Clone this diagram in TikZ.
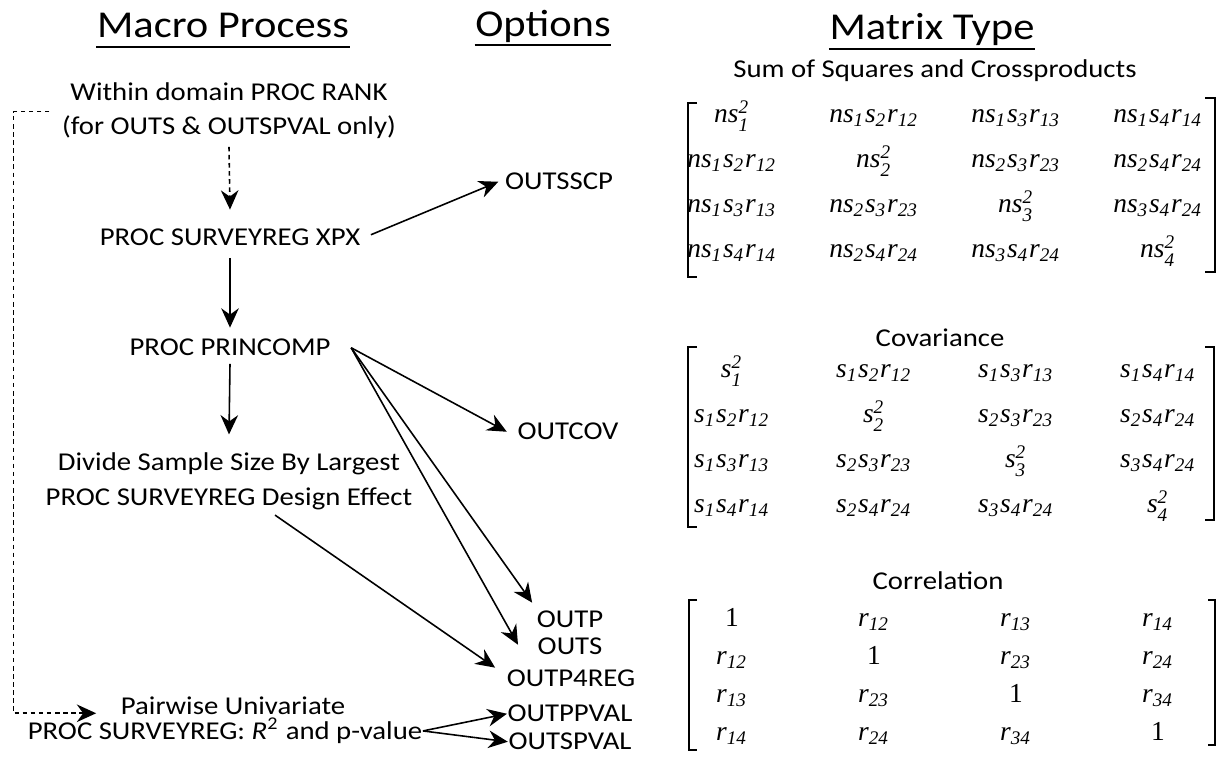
\documentclass[tikz,border=0pt]{standalone}
\usepackage{amsmath}
\usepackage{fontspec}
\setmainfont{Carlito}[FakeStretch=1.12]
\newfontfamily\eqf{Liberation Serif}
\newcommand{\eqi}{\eqf\itshape}
\newcommand{\vsq}[2]{\text{\eqi #1}_{\text{\eqi #2}}^{\text{\eqi 2}}}
\newcommand{\vcr}[4]{\text{\eqi #1}_{\text{\eqi #2}}\text{\eqi s}_{\text{\eqi #3}}\text{\eqi r}_{\text{\eqi #4}}}
\newcommand{\corr}[1]{\text{\eqi r}_{\text{\eqi #1}}}
\newcommand{\one}{\text{\eqf 1}}
\usetikzlibrary{arrows.meta,calc}

\begin{document}
\begin{tikzpicture}[x=0.01cm, y=-0.01cm,
	txt/.style={inner sep=0pt, anchor=base, font=\fontsize{7.3}{9}\selectfont},
	head/.style={inner sep=0pt, anchor=base, font=\fontsize{10.8}{13}\selectfont},
	ent/.style={inner sep=0pt, anchor=base, font=\fontsize{7.8}{10}\selectfont},
	arr/.style={-{Stealth[length=5.5pt,width=5pt,inset=1.8pt]}, line width=0.45pt},
	dsh/.style={dash pattern=on 1.3pt off 1pt},
	uline/.style={line width=0.7pt},
	brk/.style={line width=0.5pt}]
	\useasboundingbox (0,0) rectangle (1225,762);
	% headings
	\node[head] (mp) at (223,38) {Macro Process};
	\node[head] (opt) at (543,37) {Options};
	\node[head] (mt) at (932,40) {Matrix Type};
	\draw[uline] ([yshift=-0.09cm]mp.base west) -- ([yshift=-0.09cm]mp.base east);
	\draw[uline] ([yshift=-0.08cm]opt.base west) -- ([yshift=-0.08cm]opt.base east);
	\draw[uline] ([yshift=-0.09cm]mt.base west) -- ([yshift=-0.09cm]mt.base east);
	% macro process
	\node[txt] (wd1) at (229,101) {Within domain PROC RANK};
	\node[txt] (wd2) at (229,135) {(for OUTS \& OUTSPVAL only)};
	\node[txt] (xpx) at (230,246) {PROC SURVEYREG XPX};
	\node[txt] (pc) at (230,356) {PROC PRINCOMP};
	\node[txt] (dv1) at (229,471) {Divide Sample Size By Largest};
	\node[txt] (dv2) at (229,506) {PROC SURVEYREG Design Effect};
	\node[txt] (pw1) at (233,715) {Pairwise Univariate};
	\node[txt] (pw2) at (225,740) {PROC SURVEYREG: \textit{R}\textsuperscript{2} and p-value};
	% options
	\node[txt] (sscp) at (559,190) {OUTSSCP};
	\node[txt] (cov) at (568,440) {OUTCOV};
	\node[txt] (outp) at (570,628) {OUTP};
	\node[txt] (outs) at (570,655) {OUTS};
	\node[txt] (p4reg) at (571,687) {OUTP4REG};
	\node[txt] (ppval) at (570,722) {OUTPPVAL};
	\node[txt] (spval) at (570,750) {OUTSPVAL};
	% flow
	\draw[arr, dsh] ([yshift=-0.07cm]wd2.south) -- ([yshift=0.19cm]xpx.north);
	\draw[arr] ([yshift=-0.11cm]xpx.south) -- ([yshift=0.11cm]pc.north);
	\draw[arr] ([yshift=-0.07cm]pc.south) -- ([yshift=0.18cm]dv1.north);
	\draw[arr] ([xshift=0.1cm,yshift=0.03cm]xpx.east) -- ([xshift=-0.06cm]sscp.west);
	\draw[arr] ([xshift=0.2cm]pc.east) -- ([xshift=-0.1cm]cov.west);
	\draw[arr] ([xshift=0.2cm]pc.east) -- ([xshift=-0.04cm,yshift=0.08cm]outp.north west);
	\draw[arr] ([xshift=0.2cm]pc.east) -- ([xshift=-0.19cm,yshift=0.02cm]outs.west);
	\draw[arr] ([xshift=0.46cm,yshift=-0.04cm]dv2.south) -- ([xshift=-0.11cm,yshift=0.02cm]p4reg.north west);
	\draw[arr] (pw2.east) -- (ppval.west);
	\draw[arr] (pw2.east) -- (spval.west);
	\draw[arr, dsh] ([xshift=-0.12cm,yshift=0.04cm]wd2.north west) -- ++(-0.36cm,0)
		|- ([xshift=-0.24cm,yshift=-0.07cm]pw1.west);
	% matrices
	\node[txt] (ssq) at (935,78) {Sum of Squares and Crossproducts};
	\node[txt] (cv) at (940,347) {Covariance};
	\node[txt] (cr) at (938,590) {Correlation};
	\foreach \a/\b/\c/\d [count=\i] in {
		\vsq{ns}{1}/\vcr{ns}{1}{2}{12}/\vcr{ns}{1}{3}{13}/\vcr{ns}{1}{4}{14},
		\vcr{ns}{1}{2}{12}/\vsq{ns}{2}/\vcr{ns}{2}{3}{23}/\vcr{ns}{2}{4}{24},
		\vcr{ns}{1}{3}{13}/\vcr{ns}{2}{3}{23}/\vsq{ns}{3}/\vcr{ns}{3}{4}{24},
		\vcr{ns}{1}{4}{14}/\vcr{ns}{2}{4}{24}/\vcr{ns}{3}{4}{24}/\vsq{ns}{4}}{
		\node[ent] (ss-\i-1) at (732,{78+45*\i}) {$\a$};
		\node[ent] (ss-\i-2) at (874,{78+45*\i}) {$\b$};
		\node[ent] (ss-\i-3) at (1016,{78+45*\i}) {$\c$};
		\node[ent] (ss-\i-4) at (1158,{78+45*\i}) {$\d$};
	}
	\foreach \a/\b/\c/\d [count=\i] in {
		\vsq{s}{1}/\vcr{s}{1}{2}{12}/\vcr{s}{1}{3}{13}/\vcr{s}{1}{4}{14},
		\vcr{s}{1}{2}{12}/\vsq{s}{2}/\vcr{s}{2}{3}{23}/\vcr{s}{2}{4}{24},
		\vcr{s}{1}{3}{13}/\vcr{s}{2}{3}{23}/\vsq{s}{3}/\vcr{s}{3}{4}{24},
		\vcr{s}{1}{4}{14}/\vcr{s}{2}{4}{24}/\vcr{s}{3}{4}{24}/\vsq{s}{4}}{
		\node[ent] (cv-\i-1) at (732,{333+45*\i}) {$\a$};
		\node[ent] (cv-\i-2) at (874,{333+45*\i}) {$\b$};
		\node[ent] (cv-\i-3) at (1016,{333+45*\i}) {$\c$};
		\node[ent] (cv-\i-4) at (1158,{333+45*\i}) {$\d$};
	}
	\foreach \a/\b/\c/\d [count=\i] in {
		\one/\corr{12}/\corr{13}/\corr{14},
		\corr{12}/\one/\corr{23}/\corr{24},
		\corr{13}/\corr{23}/\one/\corr{34},
		\corr{14}/\corr{24}/\corr{34}/\one}{
		\node[ent] (cr-\i-1) at (732,{589+38*\i}) {$\a$};
		\node[ent] (cr-\i-2) at (874,{589+38*\i}) {$\b$};
		\node[ent] (cr-\i-3) at (1016,{589+38*\i}) {$\c$};
		\node[ent] (cr-\i-4) at (1158,{589+38*\i}) {$\d$};
	}
	\draw[brk] (697,103) -- (688,103) -- (688,277) -- (697,277);
	\draw[brk] (1205,98) -- (1215,98) -- (1215,272) -- (1205,272);
	\draw[brk] (697,347) -- (688,347) -- (688,527) -- (697,527);
	\draw[brk] (1205,347) -- (1214,347) -- (1214,520) -- (1205,520);
	\draw[brk] (697,600) -- (689,600) -- (689,750) -- (697,750);
	\draw[brk] (1208,600) -- (1215,600) -- (1215,745) -- (1208,745);
\end{tikzpicture}
\end{document}
